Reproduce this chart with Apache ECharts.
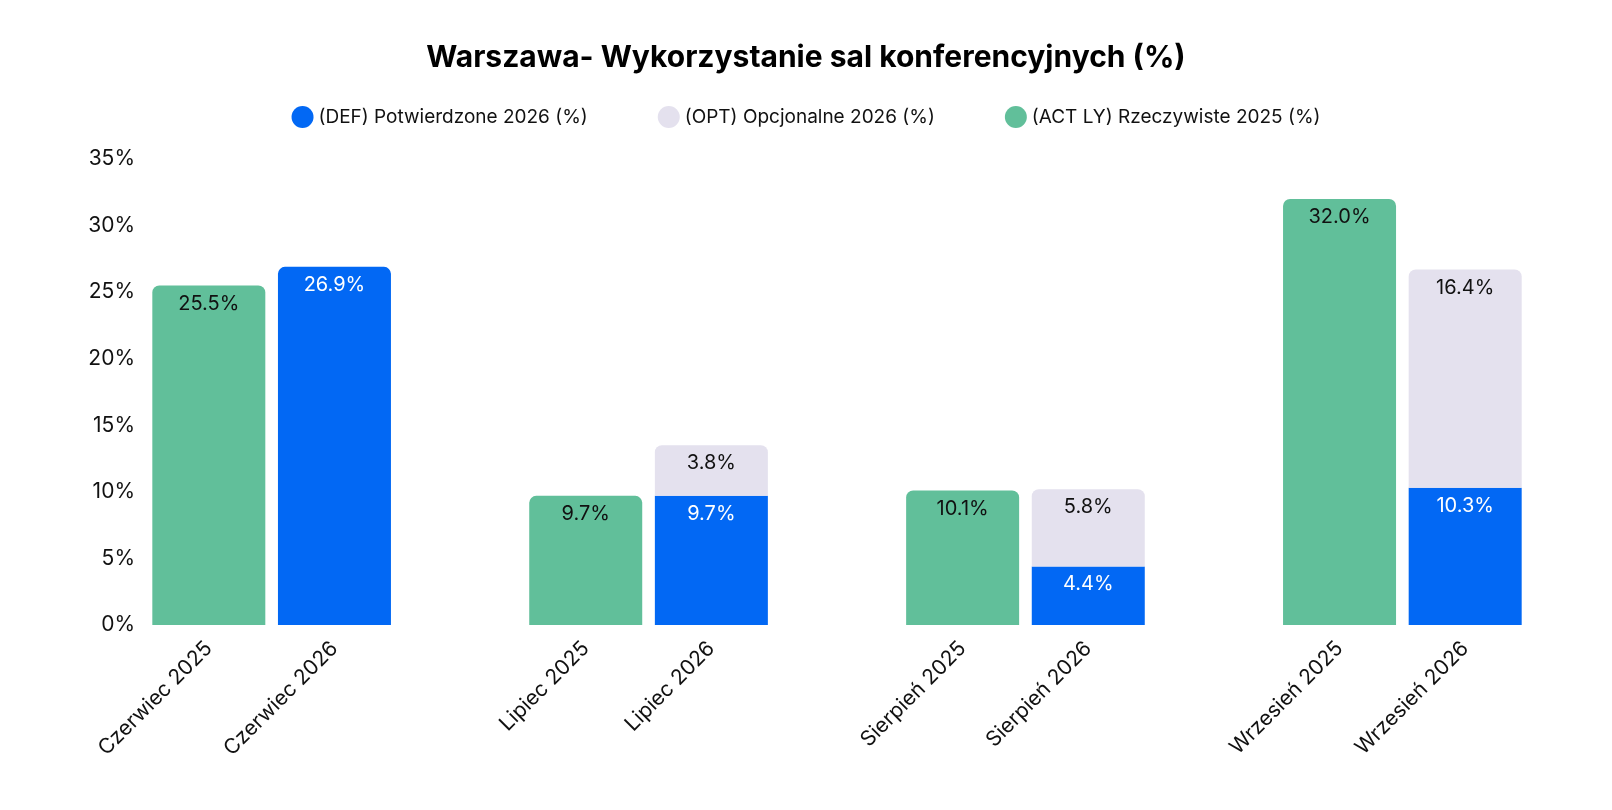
<!DOCTYPE html>
<html><head><meta charset="utf-8">
<script src="https://cdn.jsdelivr.net/npm/echarts@6/dist/echarts.min.js"></script>
<style>html,body{margin:0;padding:0;background:#fff}#c{width:1612px;height:810px}</style>
</head><body><div id="c"></div>
<script>
const categories = ['Czerwiec 2025','Czerwiec 2026','','Lipiec 2025','Lipiec 2026','','Sierpień 2025','Sierpień 2026','','Wrzesień 2025','Wrzesień 2026'];
const defValues = [null, 26.9, null, null, 9.7, null, null, 4.4, null, null, 10.3];
const optValues = [null, null, null, null, 3.8, null, null, 5.8, null, null, 16.4];
const actValues = [25.5, null, null, 9.7, null, null, 10.1, null, null, 32.0, null];
const yTicks = [0, 5, 10, 15, 20, 25, 30, 35];

const FONT = 'Inter';
const R = [7,7,0,0];
function mk(vals, topFn){
  return vals.map((v,i)=> v==null ? null : {value:v, itemStyle:{borderRadius: topFn(i) ? R : 0}});
}
const chart = echarts.init(document.getElementById('c'));
const lbl = (color)=>({show:true, position:'insideTop', distance:8, color:color, fontSize:20, fontFamily:FONT, formatter:p=>p.value.toFixed(1)+'%'});
chart.setOption({
  animation:false,
  title:{text:'Warszawa- Wykorzystanie sal konferencyjnych (%)', left:'center', top:38,
    textStyle:{fontFamily:FONT, fontSize:30, fontWeight:'bold', color:'#000'}},
  legend:{top:101, left:'center', itemWidth:22, itemHeight:22, itemGap:70, icon:'circle',
    textStyle:{fontFamily:FONT, fontSize:19, color:'#111'},
    data:['(DEF) Potwierdzone 2026 (%)','(OPT) Opcjonalne 2026 (%)','(ACT LY) Rzeczywiste 2025 (%)']},
  grid:{left:146, right:84, top:159, bottom:185},
  xAxis:{type:'category', data:categories, axisLine:{show:false}, axisTick:{show:false},
    axisLabel:{rotate:45, fontFamily:FONT, fontSize:21, color:'#111', margin:20, interval:0}},
  yAxis:{type:'value', min:0, max:35, interval:5, splitLine:{show:false},
    axisLine:{show:false}, axisTick:{show:false},
    axisLabel:{fontFamily:FONT, fontSize:21, color:'#111', margin:11, formatter:v=>yTicks.includes(v)? v+'%':''}},
  series:[
    {name:'(DEF) Potwierdzone 2026 (%)', type:'bar', stack:'s', barWidth:113, color:'#0268f4',
      data:mk(defValues, i=>optValues[i]==null), label:lbl('#fff')},
    {name:'(OPT) Opcjonalne 2026 (%)', type:'bar', stack:'s', barWidth:113, color:'#e4e1ee',
      data:mk(optValues, i=>true), label:lbl('#111')},
    {name:'(ACT LY) Rzeczywiste 2025 (%)', type:'bar', stack:'s', barWidth:113, color:'#61bf9a',
      data:mk(actValues, i=>true), label:lbl('#111')}
  ]
});
</script></body></html>
